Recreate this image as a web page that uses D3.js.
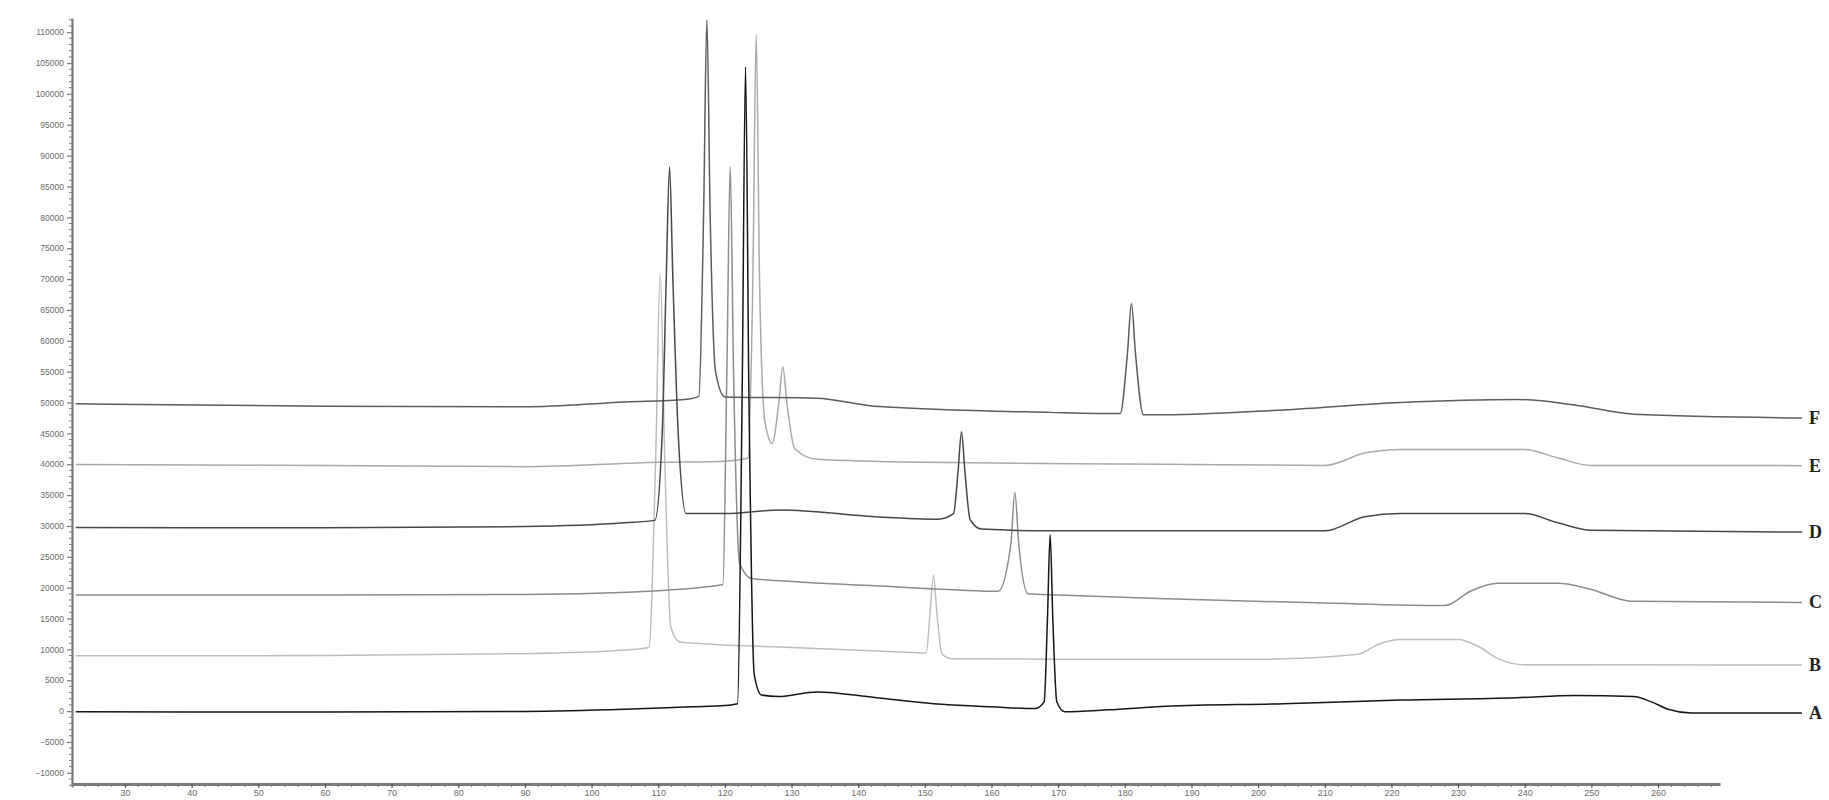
<!DOCTYPE html>
<html><head><meta charset="utf-8">
<script src="https://cdn.jsdelivr.net/npm/d3@7/dist/d3.min.js"></script>
<style>body{margin:0;background:#fff}svg{display:block}</style>
</head><body>
<svg id="c" width="1829" height="800"></svg>
<script>
// ---- data (retention-time units on x, detector signal on y, traces stacked as drawn) ----
const traceNames = ["A", "B", "C", "D", "E", "F"];
const traceColors = ["#161616", "#bdbdbd", "#8c8c8c", "#474747", "#a9a9a9", "#5c5c5c"];

const xA = [22.6, 60, 90, 105, 115, 120, 121.9, 122.6, 123.1, 123.6, 124.4, 125.5, 128, 133.8, 142.5, 151.3, 160, 166.5, 167.9, 168.4, 168.8, 169.2, 169.8, 171, 177.5, 186.3, 203.8, 221.3, 238.8, 247.5, 256.3, 259, 261.5, 265, 281.6];
const yA = [-100, -150, -50, 300, 700, 900, 1200, 52000, 104400, 52000, 6000, 2600, 2350, 3100, 2200, 1200, 700, 400, 1500, 15000, 28600, 15000, 1500, -100, 200, 800, 1200, 1780, 2160, 2540, 2350, 1500, 300, -300, -300];

const xB = [22.6, 60, 90, 105, 108.6, 109.6, 110.3, 111.0, 111.9, 113.3, 130, 148, 150.2, 150.8, 151.3, 151.8, 152.6, 154, 170, 200, 215, 218, 221.3, 230, 233, 236, 240, 281.6];
const yB = [8960, 9000, 9300, 9900, 10300, 40000, 70950, 40000, 13500, 11200, 10300, 9500, 9400, 16000, 22000, 16000, 9200, 8500, 8400, 8400, 9200, 10800, 11600, 11600, 10500, 8500, 7500, 7450];

const xC = [22.6, 60, 90, 110, 117, 119.7, 120.3, 120.8, 121.3, 122.2, 124, 130, 142.5, 155, 161, 162.9, 163.5, 164.1, 165.5, 170, 186.3, 210, 228, 232, 236, 245, 250, 256, 281.6];
const yC = [18800, 18800, 18900, 19500, 20100, 20500, 55000, 88150, 55000, 24000, 21500, 21000, 20300, 19600, 19400, 27000, 35430, 27000, 19000, 18800, 18200, 17500, 17100, 19500, 20700, 20700, 19700, 17800, 17600];

const xD = [22.6, 60, 90, 105, 109.5, 110.6, 111.2, 111.7, 112.2, 113, 114.2, 120, 128.5, 142.5, 152, 154.3, 155, 155.5, 156, 156.8, 158.5, 168.8, 210, 216, 221.3, 240, 245, 250, 281.6];
const yD = [29760, 29700, 29900, 30500, 30900, 45000, 70000, 88155, 70000, 45000, 32000, 32000, 32600, 31500, 31100, 32000, 39000, 45250, 39000, 31000, 29500, 29200, 29200, 31500, 32000, 32000, 30500, 29300, 29000];

const xE = [22.6, 60, 90, 110, 120, 123.5, 124.2, 124.7, 125.2, 126.0, 127.1, 128.1, 128.7, 129.3, 130.5, 133.8, 150, 186.3, 210, 216, 221.3, 240, 245, 250, 281.6];
const yE = [39960, 39800, 39600, 40300, 40500, 41000, 70000, 109510, 70000, 47000, 43400, 50000, 55800, 50000, 42500, 40800, 40300, 40000, 39800, 41800, 42400, 42400, 41000, 39800, 39770];

const xF = [22.6, 60, 90, 105, 114, 116.1, 116.8, 117.3, 117.8, 118.6, 120, 133.8, 142.5, 168.8, 179.3, 180.4, 181.0, 181.6, 182.8, 186.3, 203.8, 221.3, 238.8, 247.5, 256.3, 281.6];
const yF = [49790, 49400, 49300, 50100, 50500, 51000, 80000, 111970, 80000, 55000, 50900, 50700, 49400, 48400, 48200, 58000, 66040, 58000, 48000, 48000, 48800, 50000, 50500, 49600, 48100, 47500];

const xTickValues = [30, 40, 50, 60, 70, 80, 90, 100, 110, 120, 130, 140, 150, 160, 170, 180, 190, 200, 210, 220, 230, 240, 250, 260];
const yTickValues = [-10000, -5000, 0, 5000, 10000, 15000, 20000, 25000, 30000, 35000, 40000, 45000, 50000, 55000, 60000, 65000, 70000, 75000, 80000, 85000, 90000, 95000, 100000, 105000, 110000];

// ---- drawing ----
const svg = d3.select("#c");
const x = d3.scaleLinear().domain([22.05, 269.3]).range([72, 1720]);
const y = d3.scaleLinear().domain([-12300, 112300]).range([787, 18]);

const axisColor = "#7a7a7a";

// y axis
const yAx = svg.append("g").attr("transform", "translate(72,0)")
  .call(d3.axisLeft(y).tickValues(yTickValues).tickSize(5).tickSizeOuter(0).tickFormat(d3.format("d")));
yAx.select(".domain").attr("stroke", axisColor).attr("stroke-width", 2.2);
yAx.selectAll(".tick line").attr("stroke", axisColor).attr("stroke-width", 1.2);
yAx.selectAll(".tick text").attr("fill", "#6a6a6a").attr("font-size", 8.5)
  .attr("font-family", "Liberation Sans, Arial, sans-serif").attr("x", -8);
// y minor ticks
const yMinor = d3.range(-12000, 112001, 1000).filter(v => v % 5000 !== 0);
svg.append("g").selectAll("line").data(yMinor).join("line")
  .attr("x1", 69).attr("x2", 72).attr("y1", d => y(d)).attr("y2", d => y(d))
  .attr("stroke", axisColor).attr("stroke-width", 1);

// x axis
const xAx = svg.append("g").attr("transform", "translate(0,784)")
  .call(d3.axisBottom(x).tickValues(xTickValues).tickSize(4).tickSizeOuter(0).tickFormat(d3.format("d")));
xAx.select(".domain").attr("stroke", axisColor).attr("stroke-width", 3);
xAx.selectAll(".tick line").attr("stroke", "#555").attr("stroke-width", 1.2);
xAx.selectAll(".tick text").attr("fill", "#6a6a6a").attr("font-size", 9)
  .attr("font-family", "Liberation Sans, Arial, sans-serif").attr("y", 6);
const xMinor = d3.range(24, 269, 2).filter(v => v % 10 !== 0);
svg.append("g").selectAll("line").data(xMinor).join("line")
  .attr("x1", d => x(d)).attr("x2", d => x(d)).attr("y1", 784).attr("y2", 787)
  .attr("stroke", axisColor).attr("stroke-width", 1);

// traces
const traces = [
  {name: "A", xs: xA, ys: yA},
  {name: "B", xs: xB, ys: yB},
  {name: "C", xs: xC, ys: yC},
  {name: "D", xs: xD, ys: yD},
  {name: "E", xs: xE, ys: yE},
  {name: "F", xs: xF, ys: yF}
].map((t, i) => ({...t, color: traceColors[i], pts: t.xs.map((v, j) => [v, t.ys[j]])}));

const line = d3.line().x(d => x(d[0])).y(d => y(d[1])).curve(d3.curveMonotoneX);
const drawOrder = ["B", "E", "C", "F", "D", "A"];
drawOrder.forEach(n => {
  const t = traces.find(tt => tt.name === n);
  svg.append("path").attr("d", line(t.pts)).attr("fill", "none")
    .attr("stroke", t.color).attr("stroke-width", 1.5).attr("stroke-linejoin", "round");
});

// trace labels at right end
traces.forEach(t => {
  const last = t.pts[t.pts.length - 1];
  svg.append("text").attr("x", x(last[0]) + 7).attr("y", y(last[1]) + 6)
    .attr("font-family", "Liberation Serif, Times New Roman, serif").attr("font-weight", "bold")
    .attr("font-size", 18).attr("fill", "#222").text(t.name);
});
</script>
</body></html>
